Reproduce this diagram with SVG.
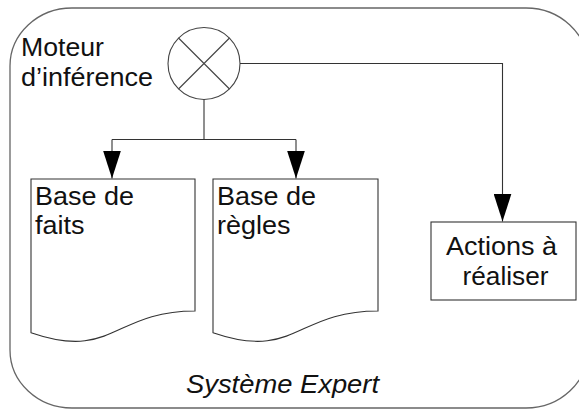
<svg xmlns="http://www.w3.org/2000/svg" width="579" height="410" viewBox="0 0 579 410">
<style>
  .t{font-family:"Liberation Sans",Arial,sans-serif;font-size:25.5px;fill:#111}
  .it{font-style:italic}
  .shape{fill:#fff;stroke:#333;stroke-width:1.1}
  .conn{fill:none;stroke:#333;stroke-width:1.1}
</style>
<defs>
  <marker id="arr" markerUnits="userSpaceOnUse" markerWidth="28" markerHeight="18" refX="28" refY="9" orient="auto">
    <path d="M0,0 L28,9 L0,18 Z" fill="#000"/>
  </marker>
</defs>
<rect width="579" height="410" fill="#fff"/>
<g id="systeme-expert">
  <rect x="10" y="8" width="578" height="400" rx="62" ry="58" fill="#fff" stroke="#666" stroke-width="1.3"/>
  <text class="t it" x="282.5" y="393" text-anchor="middle" textLength="193" lengthAdjust="spacingAndGlyphs">Système Expert</text>
</g>
<g id="moteur">
  <circle cx="204" cy="63.5" r="36" fill="#fff" stroke="#444" stroke-width="1.1"/>
  <path d="M178.5,38 L229.5,89 M229.5,38 L178.5,89" stroke="#444" stroke-width="1.1" fill="none"/>
  <text class="t" x="21" y="56" textLength="83" lengthAdjust="spacingAndGlyphs">Moteur</text>
  <text class="t" x="21" y="86" textLength="132" lengthAdjust="spacingAndGlyphs">d’inférence</text>
</g>
<g id="connectors">
  <path class="conn" d="M204,99.5 V139.5"/>
  <path class="conn" d="M112,139.5 H296"/>
  <path class="conn" d="M112,139.5 V178.5" marker-end="url(#arr)"/>
  <path class="conn" d="M296,139.5 V178.5" marker-end="url(#arr)"/>
  <path class="conn" d="M240,63.5 H502.5 V221.5" marker-end="url(#arr)"/>
</g>
<g id="base-faits">
  <path class="shape" d="M31,179 H195 V311 C113,311 113,361 31,332.7 Z"/>
  <text class="t" x="35" y="205" textLength="99" lengthAdjust="spacingAndGlyphs">Base de</text>
  <text class="t" x="35" y="234" textLength="49.5" lengthAdjust="spacingAndGlyphs">faits</text>
</g>
<g id="base-regles">
  <path class="shape" d="M213,179 H378 V311 C295.5,311 295.5,361 213,332.7 Z"/>
  <text class="t" x="217" y="205" textLength="99" lengthAdjust="spacingAndGlyphs">Base de</text>
  <text class="t" x="217" y="234" textLength="73.5" lengthAdjust="spacingAndGlyphs">règles</text>
</g>
<g id="actions">
  <rect class="shape" x="431" y="222" width="145" height="78" stroke="#555"/>
  <text class="t" x="501.5" y="255" text-anchor="middle" textLength="111" lengthAdjust="spacingAndGlyphs">Actions à</text>
  <text class="t" x="505.5" y="285" text-anchor="middle" textLength="86" lengthAdjust="spacingAndGlyphs">réaliser</text>
</g>
</svg>
